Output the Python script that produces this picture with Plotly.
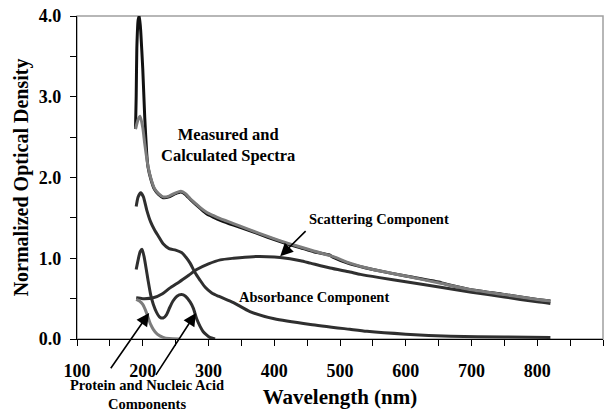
import plotly.graph_objects as go

# ---- data ----
measured_x = [189, 190, 191, 193, 195, 197, 200, 203, 206, 208, 213, 218, 224, 231, 240, 250, 258, 265, 272, 280,
              287, 297, 307, 318, 338, 360, 390, 419, 440, 460, 484, 490, 515, 550, 600, 653, 656, 700, 750, 800, 820]
measured_y = [2.60, 3.00, 3.60, 3.95, 4.00, 3.80, 3.35, 2.75, 2.30, 2.13, 1.96, 1.85, 1.79, 1.75, 1.76, 1.80, 1.82, 1.79, 1.73, 1.67,
              1.62, 1.55, 1.51, 1.47, 1.41, 1.35, 1.26, 1.18, 1.13, 1.08, 1.04, 1.01, 0.93, 0.86, 0.78, 0.70, 0.69, 0.61, 0.55, 0.49, 0.47]

calc_x = [189, 193, 196, 200, 203, 208, 213, 218, 224, 231, 240, 250, 258, 265, 272, 280, 287, 297, 307, 318,
          338, 360, 390, 419, 440, 460, 490, 515, 550, 600, 653, 700, 750, 800, 820]
calc_y = [2.60, 2.72, 2.76, 2.62, 2.42, 2.14, 1.97, 1.86, 1.80, 1.76, 1.77, 1.81, 1.83, 1.80, 1.74, 1.68, 1.63, 1.57, 1.53, 1.49,
          1.43, 1.36, 1.27, 1.19, 1.14, 1.09, 1.02, 0.94, 0.86, 0.78, 0.69, 0.61, 0.55, 0.49, 0.47]

absorb_x = [190, 193, 197, 201, 206, 212, 218, 224, 231, 240, 250, 259, 266, 272, 279, 287, 295, 305, 315, 338,
            363, 400, 455, 515, 541, 600, 668, 750, 820]
absorb_y = [1.64, 1.76, 1.81, 1.76, 1.60, 1.45, 1.35, 1.27, 1.18, 1.12, 1.10, 1.07, 1.01, 0.94, 0.83, 0.73, 0.64, 0.57, 0.53, 0.45,
            0.34, 0.25, 0.18, 0.12, 0.095, 0.06, 0.035, 0.025, 0.02]

scatter_x = [190, 200, 216, 230, 241, 256, 270, 282, 300, 318, 338, 368, 389, 409, 440, 455, 485, 515, 531, 560,
             600, 653, 700, 750, 800, 820]
scatter_y = [0.51, 0.50, 0.51, 0.56, 0.63, 0.71, 0.79, 0.86, 0.93, 0.98, 1.00, 1.02, 1.02, 1.01, 0.97, 0.94, 0.88, 0.83, 0.80, 0.76,
             0.71, 0.64, 0.58, 0.52, 0.46, 0.44]

protein_x = [190, 195, 200, 204, 208, 212, 216, 222, 231, 240, 255]
protein_y = [0.49, 0.47, 0.43, 0.36, 0.27, 0.18, 0.12, 0.06, 0.02, 0.005, 0.0]

nucleic_x = [190, 193, 196, 199, 202, 205, 208, 212, 216, 221, 226, 231, 236, 241, 246, 252, 259, 265, 272, 277,
             282, 287, 292, 297, 302, 310]
nucleic_y = [0.86, 0.98, 1.08, 1.11, 1.02, 0.88, 0.73, 0.55, 0.43, 0.33, 0.27, 0.26, 0.30, 0.39, 0.47, 0.53, 0.55, 0.53, 0.46, 0.38,
             0.25, 0.16, 0.09, 0.05, 0.02, 0.0]

x_ticks = [100, 200, 300, 400, 500, 600, 700, 800, 900]
y_ticks = [0.0, 1.0, 2.0, 3.0, 4.0]

FONT = "Liberation Serif"
DARK = "#2f2f2f"
GRAY = "#7c7c7c"

fig = go.Figure()

def add_line(xs, ys, color, width=3, smooth=0.6):
    fig.add_trace(go.Scatter(x=xs, y=ys, mode="lines",
                             line=dict(color=color, width=width, shape="spline", smoothing=smooth),
                             showlegend=False, hoverinfo="skip"))

add_line(scatter_x, scatter_y, DARK)
add_line(absorb_x, absorb_y, DARK)
add_line(nucleic_x, nucleic_y, DARK)
add_line(protein_x, protein_y, GRAY)
add_line(measured_x, measured_y, "#111111", width=3, smooth=0.4)
add_line(calc_x, calc_y, GRAY, width=3)

bold = dict(family=FONT, color="black", weight="bold")

annotations = [
    dict(x=330, y=2.40, text="Measured and<br>Calculated Spectra", showarrow=False,
         font=dict(size=16.5, **bold)),
    dict(x=560, y=1.49, text="Scattering Component", showarrow=False, font=dict(size=14.5, **bold)),
    dict(x=461, y=0.52, text="Absorbance Component", showarrow=False, font=dict(size=14.5, **bold)),
    dict(x=206, y=-0.172, yref="paper", yanchor="middle", text="Protein and Nucleic Acid<br>Components",
         showarrow=False, font=dict(size=14.5, **bold)),
    dict(x=409, y=1.024, ax=450, ay=1.354, axref="x", ayref="y", text="", showarrow=True,
         arrowhead=2, arrowsize=1.6, arrowwidth=1.6, arrowcolor="black"),
    dict(x=209.7, y=0.322, ax=149.8, ay=-0.38, axref="x", ayref="y", text="", showarrow=True,
         arrowhead=2, arrowsize=1.6, arrowwidth=1.6, arrowcolor="black"),
    dict(x=280.9, y=0.322, ax=218.5, ay=-0.463, axref="x", ayref="y", text="", showarrow=True,
         arrowhead=2, arrowsize=1.6, arrowwidth=1.6, arrowcolor="black"),
]
for a in annotations:
    a.setdefault("xref", "x")
    a.setdefault("yref", "y")
    fig.add_annotation(**a)

# gray plot-area frame (top and right)
fig.add_shape(type="rect", xref="paper", yref="paper", x0=0, x1=1, y0=0, y1=1,
              line=dict(color="#a0a0a0", width=1.5), layer="below")

fig.update_layout(
    width=616, height=409,
    margin=dict(l=77, r=13, t=16, b=70, autoexpand=False),
    paper_bgcolor="white", plot_bgcolor="white",
    font=dict(family=FONT, color="black"),
    xaxis=dict(range=[100, 900], tickvals=x_ticks, ticktext=[str(v) for v in x_ticks],
               ticks="outside", ticklen=6, tickwidth=1, tickcolor="black",
               minor=dict(dtick=50, ticks="outside", ticklen=6, tickcolor="black"),
               showline=True, linecolor="black", linewidth=1.2, showgrid=False, zeroline=False,
               tickfont=dict(size=18, **bold), ticklabelstandoff=9,
               title=dict(text="Wavelength (nm)", font=dict(size=21, **bold), standoff=12)),
    yaxis=dict(range=[0, 4], tickvals=y_ticks, ticktext=[f"{v:.1f}" for v in y_ticks],
               ticks="outside", ticklen=6, tickwidth=1, tickcolor="black",
               minor=dict(dtick=0.5, ticks="outside", ticklen=6, tickcolor="black"),
               showline=True, linecolor="black", linewidth=1.2, showgrid=False, zeroline=False,
               tickfont=dict(size=18, **bold), ticklabelstandoff=5,
               title=dict(text="Normalized Optical Density", font=dict(size=20, **bold), standoff=4)),
)

fig.write_html("out.html")
